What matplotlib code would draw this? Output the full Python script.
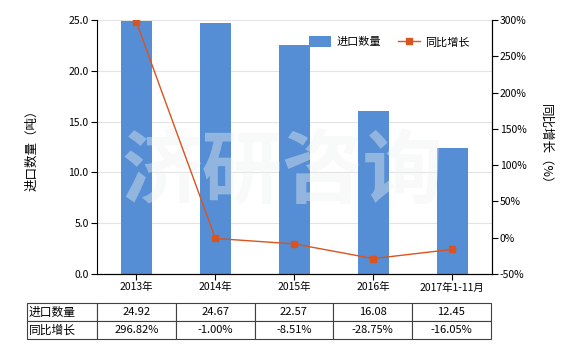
import matplotlib
matplotlib.use("Agg")
import matplotlib.pyplot as plt
import numpy as np

plt.rcParams["font.family"] = ["Noto Sans CJK SC", "DejaVu Sans"]

CATEGORIES = ["2013年", "2014年", "2015年", "2016年", "2017年1-11月"]
QUANTITY = [24.92, 24.67, 22.57, 16.08, 12.45]
GROWTH = [296.82, -1.00, -8.51, -28.75, -16.05]
ROW_NAMES = ["进口数量", "同比增长"]

BAR_COLOR = "#558ED5"
LINE_COLOR = "#D9541E"

fig = plt.figure(figsize=(5.8, 3.5), dpi=100)
ax = fig.add_axes([0.1672, 0.2171, 0.6805, 0.7258])
ax2 = ax.twinx()

x = np.arange(len(CATEGORIES))
ax.bar(x, QUANTITY, width=0.39, color=BAR_COLOR, label="进口数量", zorder=2)
ax2.plot(x, GROWTH, color=LINE_COLOR, lw=1, marker="s", ms=4,
         label="同比增长", zorder=3)

ax.set_xlim(-0.5, len(CATEGORIES) - 0.5)
ax.set_ylim(0, 25)
ax.set_yticks(np.arange(0, 25.1, 5))
ax.set_yticklabels([f"{v:.1f}" for v in np.arange(0, 25.1, 5)])
ax2.set_ylim(-50, 300)
ax2.set_yticks(np.arange(-50, 301, 50))
ax2.set_yticklabels([f"{v}%" for v in range(-50, 301, 50)])

ax.set_xticks(x)
ax.set_xticklabels(CATEGORIES)
ax.grid(axis="y", color="#e3e3e3", lw=0.8, zorder=0)
ax.set_axisbelow(True)

for a in (ax, ax2):
    a.spines["top"].set_visible(False)
    a.tick_params(labelsize=7.5, length=4, width=0.8, pad=2)
ax2.spines["left"].set_visible(False)

ax.set_ylabel("进口数量（吨）", fontsize=9, labelpad=22)
ax2.set_ylabel("同比增长（%）", fontsize=9, rotation=-90, labelpad=18)

ax.text(0.47, 0.395, "济研咨询", transform=ax.transAxes, ha="center", va="center",
        fontsize=58, fontweight="bold", color="#eef1f1", alpha=0.4, zorder=5)

h1, l1 = ax.get_legend_handles_labels()
h2, l2 = ax2.get_legend_handles_labels()
ax2.legend(h1 + h2, l1 + l2, loc="upper right", bbox_to_anchor=(0.97, 0.975),
           ncol=2, frameon=False, fontsize=8, handlelength=2.0,
           handleheight=1.1, columnspacing=1.5, handletextpad=0.5)

cells = [[ROW_NAMES[0]] + [f"{v:.2f}" for v in QUANTITY],
         [ROW_NAMES[1]] + [f"{v:.2f}%" for v in GROWTH]]
col_w = [70.0 / 394.4] + [0.2] * len(CATEGORIES)
tbl = ax.table(cellText=cells, colWidths=col_w, cellLoc="center",
               bbox=[-0.1768, -0.2576, 1.1743, 0.144])
tbl.auto_set_font_size(False)
tbl.set_fontsize(8)
for (r, c), cell in tbl.get_celld().items():
    cell.set_edgecolor("#404040")
    cell.set_linewidth(0.8)
    if c == 0:
        cell.set_text_props(ha="left", fontsize=8.5)
        cell.PAD = 0.02

fig.savefig("out.png", dpi=100)
